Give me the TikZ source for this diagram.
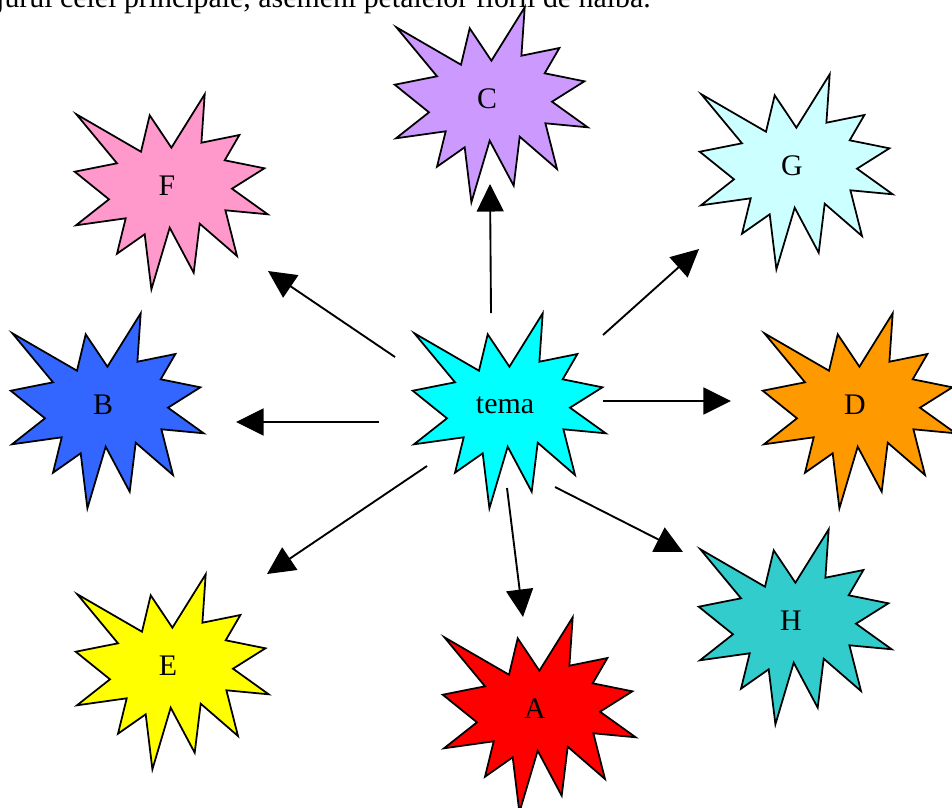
\documentclass[tikz,border=0pt]{standalone}
\usepackage{fontspec}
\setmainfont{Liberation Serif}
\usepackage{tikz}
\usetikzlibrary{arrows.meta}
\definecolor{lila}{RGB}{204,153,255}
\definecolor{roz}{RGB}{255,153,204}
\definecolor{bleu}{RGB}{204,255,255}
\definecolor{albastru}{RGB}{51,102,255}
\definecolor{turcoaz}{RGB}{0,255,255}
\definecolor{portocaliu}{RGB}{255,153,0}
\definecolor{galben}{RGB}{255,255,0}
\definecolor{rosu}{RGB}{255,0,0}
\definecolor{verzui}{RGB}{51,204,204}
\tikzset{
  eticheta/.style = {inner sep=0pt, font=\fontsize{25.5}{30}\selectfont},
  contur/.style   = {draw=black, line width=1.5pt, line join=miter},
  sag/.style      = {-{Triangle[length=23.5pt,width=23pt]}, line width=1.6pt},
  pics/exploz/.style 2 args = {code={
      \draw[contur, fill=#1] (-90.6,-71.7) -- (-26,-34.3) -- (-17.3,-70.7) -- (4.4,-38.3)
        -- (37.7,-91.7) -- (34.4,-43.3) -- (72.4,-51) -- (57.7,-25.7) -- (97.4,-17.7)
        -- (65,2.7) -- (100.7,28.3) -- (58.4,24.3) -- (70,70) -- (32.7,37.7)
        -- (26.7,86.7) -- (2.7,41.7) -- (-15.6,103.3) -- (-22.3,48.3) -- (-50,67.7)
        -- (-41.3,32.3) -- (-91,39.3) -- (-58,13.3) -- (-92.3,-14.3) -- (-50,-22.7) -- cycle;
      \node[eticheta] (-c) {#2};
  }},
}

\begin{document}
\begin{tikzpicture}[x=0.03cm, y=-0.03cm]
    \useasboundingbox (0,0) rectangle (952,807);
    % rândul de text tăiat sus
    \begin{scope}
      \clip (0,0) rectangle (952,807);
      \node[eticheta, anchor=base west] (rand) at (-4,7) {jurul celei principale, asemeni petalelor florii de nalbă.};
    \end{scope}
    % steaua centrală și petalele
    \pic (tema) at (505,405) {exploz={turcoaz}{tema}};
    \pic (C) at (487,99)  {exploz={lila}{C}};
    \pic (F) at (167,186) {exploz={roz}{F}};
    \pic (G) at (792,166) {exploz={bleu}{G}};
    \pic (B) at (103,405) {exploz={albastru}{B}};
    \pic (D) at (855,405) {exploz={portocaliu}{D}};
    \pic (E) at (168,666) {exploz={galben}{E}};
    \pic (A) at (535,709) {exploz={rosu}{A}};
    \pic (H) at (791,621) {exploz={verzui}{H}};
    % săgeți
    \draw[sag] ([shift={(-14,-92)}]tema-c.center) -- ([shift={(3,85)}]C-c.center);
    \draw[sag] ([shift={(-110,-48)}]tema-c.center) -- ([shift={(101,85)}]F-c.center);
    \draw[sag] ([shift={(98,-70)}]tema-c.center) -- ([shift={(-93,83)}]G-c.center);
    \draw[sag] ([shift={(-126,17)}]tema-c.center) -- ([shift={(133,17)}]B-c.center);
    \draw[sag] ([shift={(98,-4)}]tema-c.center) -- ([shift={(-124,-4)}]D-c.center);
    \draw[sag] ([shift={(-78,61)}]tema-c.center) -- ([shift={(99,-92)}]E-c.center);
    \draw[sag] ([shift={(2,83)}]tema-c.center) -- ([shift={(-12,-92)}]A-c.center);
    \draw[sag] ([shift={(50,82)}]tema-c.center) -- ([shift={(-108,-69)}]H-c.center);
\end{tikzpicture}
\end{document}
